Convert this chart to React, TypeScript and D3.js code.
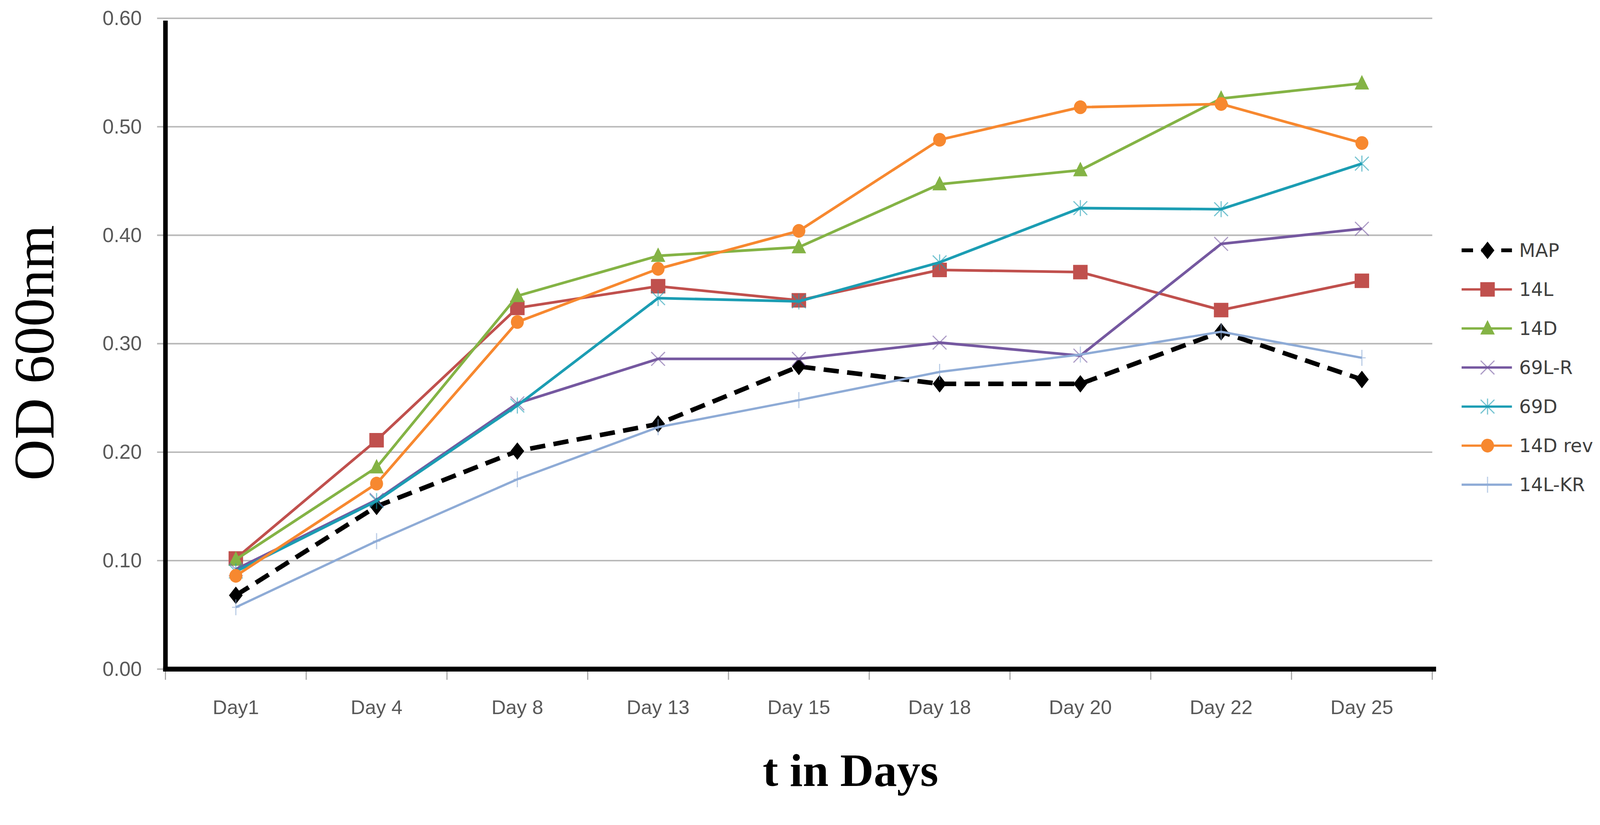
import React, { useEffect, useRef } from 'react'
import * as d3 from 'd3'

// categories and values
const days = ['Day1', 'Day 4', 'Day 8', 'Day 13', 'Day 15', 'Day 18', 'Day 20', 'Day 22', 'Day 25']
const yTicks = [0, 0.1, 0.2, 0.3, 0.4, 0.5, 0.6]

const mapValues = [0.068, 0.150, 0.201, 0.226, 0.279, 0.263, 0.263, 0.311, 0.267]
const l14Values = [0.102, 0.211, 0.333, 0.353, 0.340, 0.368, 0.366, 0.331, 0.358]
const d14Values = [0.101, 0.186, 0.344, 0.381, 0.389, 0.447, 0.460, 0.526, 0.540]
const l69rValues = [0.092, 0.156, 0.245, 0.286, 0.286, 0.301, 0.289, 0.392, 0.406]
const d69Values = [0.090, 0.155, 0.243, 0.342, 0.339, 0.375, 0.425, 0.424, 0.466]
const d14revValues = [0.086, 0.171, 0.320, 0.369, 0.404, 0.488, 0.518, 0.521, 0.485]
const l14krValues = [0.057, 0.118, 0.175, 0.223, 0.248, 0.274, 0.290, 0.311, 0.287]

const series = [
  { name: 'MAP', values: mapValues, color: '#000000', marker: 'diamond', width: 12, dash: '40,22' },
  { name: '14L', values: l14Values, color: '#C0504D', marker: 'square', width: 7, dash: null },
  { name: '14D', values: d14Values, color: '#84B345', marker: 'triangle', width: 7, dash: null },
  { name: '69L-R', values: l69rValues, color: '#7558A0', marker: 'x', width: 7, dash: null },
  { name: '69D', values: d69Values, color: '#1B9DB3', marker: 'star', width: 7, dash: null },
  { name: '14D rev', values: d14revValues, color: '#F7882F', marker: 'circle', width: 7, dash: null },
  { name: '14L-KR', values: l14krValues, color: '#8EABD6', marker: 'plus', width: 6, dash: null },
]

function drawMarker(g: any, type: string, x: number, y: number, color: string) {
  if (type === 'diamond') {
    g.append('path').attr('d', `M${x},${y - 23}L${x + 18},${y}L${x},${y + 23}L${x - 18},${y}Z`)
      .attr('fill', color)
  } else if (type === 'square') {
    g.append('rect').attr('x', x - 19).attr('y', y - 19).attr('width', 38).attr('height', 38)
      .attr('fill', color)
  } else if (type === 'triangle') {
    g.append('path').attr('d', `M${x},${y - 22}L${x + 19},${y + 16}L${x - 19},${y + 16}Z`)
      .attr('fill', color)
  } else if (type === 'circle') {
    g.append('ellipse').attr('cx', x).attr('cy', y).attr('rx', 17).attr('ry', 18).attr('fill', color)
  } else {
    const s = 18
    const p = d3.path()
    if (type === 'x' || type === 'star') {
      p.moveTo(x - s, y - s); p.lineTo(x + s, y + s)
      p.moveTo(x - s, y + s); p.lineTo(x + s, y - s)
    }
    if (type === 'star' || type === 'plus') {
      p.moveTo(x, y - s - 3); p.lineTo(x, y + s + 3)
    }
    if (type === 'plus') {
      p.moveTo(x - 10, y); p.lineTo(x + 10, y)
    }
    g.append('path').attr('d', p.toString()).attr('fill', 'none')
      .attr('stroke', color).attr('stroke-width', 3).attr('stroke-opacity', 0.6)
  }
}

export default function App() {
  const svgRef = useRef<SVGSVGElement>(null)

  useEffect(() => {
    if (!svgRef.current) return
    const svg = d3.select(svgRef.current)
    svg.selectAll('*').remove()

    const left = 434, right = 3757, top = 48, bottom = 1756

    const x = d3.scaleBand().domain(days).range([left, right])
    const y = d3.scaleLinear().domain([0, 0.6]).range([bottom, top])

    // grid lines
    svg.append('g').selectAll('line').data(yTicks).enter().append('line')
      .attr('x1', left - 22).attr('x2', right)
      .attr('y1', d => y(d)).attr('y2', d => y(d))
      .attr('stroke', '#B8B8B8').attr('stroke-width', 4)

    // y axis labels
    const yAxis = svg.append('g')
      .attr('transform', `translate(${left},0)`)
      .call(d3.axisLeft(y).tickValues(yTicks).tickFormat(d => d3.format('.2f')(d as number)).tickSize(0).tickPadding(62))
    yAxis.select('.domain').remove()
    yAxis.selectAll('text')
      .style('font-family', 'Liberation Sans, Arial, sans-serif')
      .style('font-size', '53px')
      .attr('fill', '#595959')

    // x axis tick marks at category boundaries
    const bounds = days.map(d => x(d) as number).concat([right])
    svg.append('g').selectAll('line').data(bounds).enter().append('line')
      .attr('x1', d => d).attr('x2', d => d)
      .attr('y1', bottom).attr('y2', bottom + 28)
      .attr('stroke', '#A6A6A6').attr('stroke-width', 3)

    const xAxis = svg.append('g')
      .attr('transform', `translate(0,${bottom})`)
      .call(d3.axisBottom(x).tickSize(0))
    xAxis.select('.domain').remove()
    xAxis.selectAll('text')
      .attr('y', 118).attr('dy', null)
      .style('font-family', 'Liberation Sans, Arial, sans-serif')
      .style('font-size', '52px')
      .attr('fill', '#595959')

    // axis lines
    svg.append('line').attr('x1', left).attr('x2', left).attr('y1', top + 6).attr('y2', bottom + 6)
      .attr('stroke', '#000').attr('stroke-width', 12)
    svg.append('line').attr('x1', left - 6).attr('x2', right + 10).attr('y1', bottom).attr('y2', bottom)
      .attr('stroke', '#000').attr('stroke-width', 13)

    // series
    const cx = (i: number) => (x(days[i]) as number) + x.bandwidth() / 2
    series.forEach(s => {
      const line = d3.line<number>().x((_, i) => cx(i)).y(d => y(d))
      const path = svg.append('path').datum(s.values)
        .attr('fill', 'none').attr('stroke', s.color)
        .attr('stroke-width', s.width).attr('stroke-linejoin', 'round')
        .attr('d', line)
      if (s.dash) path.attr('stroke-dasharray', s.dash)
      const mg = svg.append('g')
      s.values.forEach((v, i) => drawMarker(mg, s.marker, cx(i), y(v), s.color))
    })

    // axis titles
    svg.append('text')
      .attr('transform', `translate(140,926) rotate(-90)`)
      .attr('text-anchor', 'middle')
      .style('font-family', 'Liberation Serif, Times New Roman, serif')
      .style('font-size', '150px')
      .attr('fill', '#000')
      .text('OD 600nm')

    svg.append('text')
      .attr('x', 2231).attr('y', 2063)
      .attr('text-anchor', 'middle')
      .style('font-family', 'Liberation Serif, Times New Roman, serif')
      .style('font-size', '122px')
      .style('font-weight', 'bold')
      .attr('fill', '#000')
      .text('t in Days')

    // legend
    const legend = svg.append('g')
    series.forEach((s, i) => {
      const ly = 657 + i * 102.5
      const l = legend.append('line')
        .attr('x1', 3834).attr('x2', 3966).attr('y1', ly).attr('y2', ly)
        .attr('stroke', s.color).attr('stroke-width', s.dash ? 10 : 6)
      if (s.dash) l.attr('stroke-dasharray', '30,22')
      drawMarker(legend, s.marker, 3902, ly, s.color)
      legend.append('text')
        .attr('x', 3985).attr('y', ly).attr('dy', '0.35em')
        .style('font-family', 'DejaVu Sans, sans-serif')
        .style('font-size', '49px')
        .attr('fill', '#404040')
        .text(s.name)
    })
  }, [])

  return (
    <div style={{ position: 'absolute', left: 0, top: 0, width: '100%' }}>
      <svg ref={svgRef} viewBox="0 0 4197 2113" width="100%"
        style={{ display: 'block', background: '#fff' }} />
    </div>
  )
}
